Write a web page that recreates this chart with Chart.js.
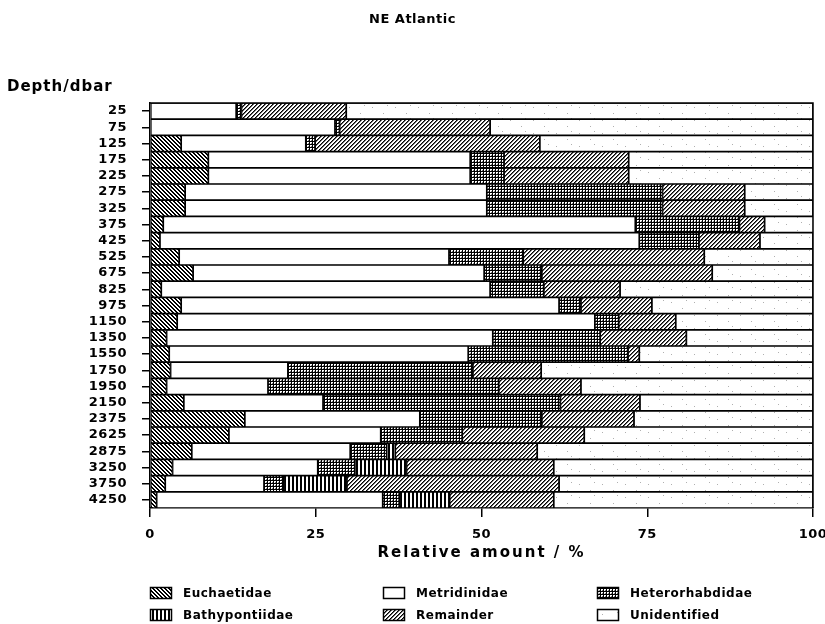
<!DOCTYPE html>
<html>
<head>
<meta charset="utf-8">
<script src="https://cdn.jsdelivr.net/npm/chart.js@4.4.0/dist/chart.umd.min.js"></script>
<style>
html,body{margin:0;padding:0;background:#fff;}
canvas{display:block;}
</style>
</head>
<body>
<canvas id="c" width="825" height="624"></canvas>
<script>
// ---- data (percent of total) ----
const depths = ['25','75','125','175','225','275','325','375','425','525','675','825','975','1150','1350','1550','1750','1950','2150','2375','2625','2875','3250','3750','4250'];
const euchaetidae     = [0, 0, 4.7, 8.8, 8.8, 5.3, 5.3, 2.0, 1.5, 4.4, 6.5, 1.7, 4.7, 4.1, 2.5, 2.9, 3.1, 2.5, 5.1, 14.3, 11.9, 6.3, 3.4, 2.3, 1.0];
const metridinidae    = [13.0, 27.9, 18.8, 39.5, 39.5, 45.5, 45.5, 71.2, 72.3, 40.7, 43.9, 49.6, 57.0, 63.0, 49.2, 45.1, 17.7, 15.3, 21.0, 26.4, 22.9, 23.9, 21.9, 14.9, 34.1];
const heterorhabdidae = [0.8, 0.7, 1.4, 5.1, 5.1, 26.5, 26.5, 15.7, 9.0, 11.2, 8.7, 8.1, 3.3, 3.6, 16.2, 24.1, 27.9, 34.8, 35.8, 18.4, 12.3, 5.5, 5.6, 2.9, 2.5];
const bathypontiidae  = [0, 0, 0, 0, 0, 0, 0, 0, 0, 0, 0, 0, 0, 0, 0, 0, 0, 0, 0, 0, 0, 1.3, 7.8, 9.6, 7.6];
const remainder       = [15.8, 22.7, 33.9, 18.8, 18.8, 12.4, 12.4, 3.8, 9.2, 27.3, 25.7, 11.5, 10.7, 8.6, 13.0, 1.7, 10.3, 12.4, 12.0, 13.9, 18.4, 21.4, 22.2, 32.0, 15.7];
const unidentified    = [70.4, 48.7, 41.2, 27.8, 27.8, 10.3, 10.3, 7.4, 8.0, 16.4, 15.2, 29.1, 24.3, 20.7, 19.1, 26.2, 41.0, 35.0, 26.1, 27.0, 34.5, 41.6, 39.1, 38.3, 39.1];
const seriesNames = ['Euchaetidae','Metridinidae','Heterorhabdidae','Bathypontiidae','Remainder','Unidentified'];
const xTicks = [0, 25, 50, 75, 100];

// ---- fill patterns ----
const canvas = document.getElementById('c');
const ctx = canvas.getContext('2d');
function makePattern(w, h, fn, dot) {
  const c = document.createElement('canvas');
  c.width = w; c.height = h;
  const g = c.getContext('2d');
  g.fillStyle = '#fff'; g.fillRect(0, 0, w, h);
  for (let y = 0; y < h; y++) for (let x = 0; x < w; x++) {
    const v = fn(x, y);
    if (v) { g.fillStyle = (typeof v === 'string') ? v : (dot || '#000'); g.fillRect(x, y, 1, 1); }
  }
  return ctx.createPattern(c, 'repeat');
}
const patEuch = makePattern(4, 4, (x, y) => ((x - y + 8) % 4) < 2);
const patMetr = '#ffffff';
const patHet  = makePattern(3, 3, (x, y) => x === 0 || y === 0 || (x === 2 && y === 2 ? '#777' : false));
const patBath = makePattern(4, 4, (x, y) => x < 2);
const patRem  = makePattern(4, 4, (x, y) => ((x + y) % 4) === 0 || (((x + y) % 4) === 1 ? '#666' : false));
const patUnid = makePattern(23, 13, (x, y) => (x === 4 && y === 3) || (x === 15 && y === 9) || (x === 19 && y === 1), '#b0b0b0');
const fills = [patEuch, patMetr, patHet, patBath, patRem, patUnid];
const seriesData = [euchaetidae, metridinidae, heterorhabdidae, bathypontiidae, remainder, unidentified];

const FONT = 'DejaVu Sans';

const spacingPlugin = {
  id: 'spacing',
  beforeUpdate(chart) { chart.ctx.letterSpacing = '0.5px'; },
  beforeDraw(chart) { chart.ctx.letterSpacing = '0.5px'; }
};

const extrasPlugin = {
  id: 'extras',
  afterDraw(chart) {
    const c = chart.ctx;
    const a = chart.chartArea;
    c.save();
    c.fillStyle = '#000';
    // y-axis caption
    c.letterSpacing = '1px';
    c.font = 'bold 15px "' + FONT + '"';
    c.textAlign = 'left'; c.textBaseline = 'middle';
    c.fillText('Depth/dbar', 7, 87);
    // x-axis caption
    c.letterSpacing = '2px';
    c.font = 'bold 15px "' + FONT + '"';
    c.textAlign = 'center';
    c.fillText('Relative amount / %', (a.left + a.right) / 2, 553);
    // legend
    c.letterSpacing = '0.5px';
    c.font = 'bold 12px "' + FONT + '"';
    c.textAlign = 'left';
    const cols = [150, 383, 597];
    const rows = [593, 615];
    chart.data.datasets.forEach((ds, i) => {
      const x = cols[i % 3], y = rows[Math.floor(i / 3)];
      c.fillStyle = ds.backgroundColor;
      c.fillRect(x, y - 6, 22, 12);
      c.strokeStyle = '#000'; c.lineWidth = 1.5;
      c.strokeRect(x + 0.5, y - 5.5, 21, 11);
      c.fillStyle = '#000';
      c.fillText(ds.label, x + 33, y + 1);
    });
    // frame top/right
    c.strokeStyle = '#000'; c.lineWidth = 1.5;
    c.beginPath();
    c.moveTo(a.left, a.top); c.lineTo(a.right, a.top); c.lineTo(a.right, a.bottom);
    c.stroke();
    c.restore();
  }
};

new Chart(canvas, {
  type: 'bar',
  data: {
    labels: depths,
    datasets: seriesNames.map((name, i) => ({
      label: name,
      data: seriesData[i],
      backgroundColor: fills[i],
      borderColor: '#000',
      borderWidth: 1.2,
      borderSkipped: false,
      barPercentage: 1,
      categoryPercentage: 1
    }))
  },
  options: {
    indexAxis: 'y',
    responsive: false,
    animation: false,
    devicePixelRatio: 1,
    layout: { padding: { left: 12, right: 12, top: 0, bottom: 86 } },
    plugins: {
      legend: { display: false },
      tooltip: { enabled: false },
      title: {
        display: true,
        text: 'NE Atlantic',
        color: '#000',
        font: { family: FONT, size: 13, weight: 'bold' },
        padding: { top: 12, bottom: 75.4 }
      }
    },
    scales: {
      x: {
        stacked: true,
        min: 0, max: 100,
        afterBuildTicks(scale) { scale.ticks = xTicks.map(v => ({ value: v })); },
        afterFit(scale) { scale.height = 30; scale.paddingLeft = 0; scale.paddingRight = 0; },
        grid: { display: true, drawOnChartArea: false, drawTicks: true, tickLength: 9, color: '#000', lineWidth: 1.5 },
        border: { display: true, color: '#000', width: 1.5 },
        ticks: { color: '#000', padding: 10, maxRotation: 0, font: { family: FONT, size: 13, weight: 'bold' } }
      },
      y: {
        stacked: true,
        afterFit(scale) { scale.width = 138; },
        grid: { display: true, offset: false, drawOnChartArea: false, drawTicks: true, tickLength: 8, color: '#000', lineWidth: 1.5 },
        border: { display: true, color: '#000', width: 1.5 },
        ticks: { color: '#000', padding: 15, autoSkip: false, font: { family: FONT, size: 13, weight: 'bold' } }
      }
    }
  },
  plugins: [spacingPlugin, extrasPlugin]
});
</script>
</body>
</html>
